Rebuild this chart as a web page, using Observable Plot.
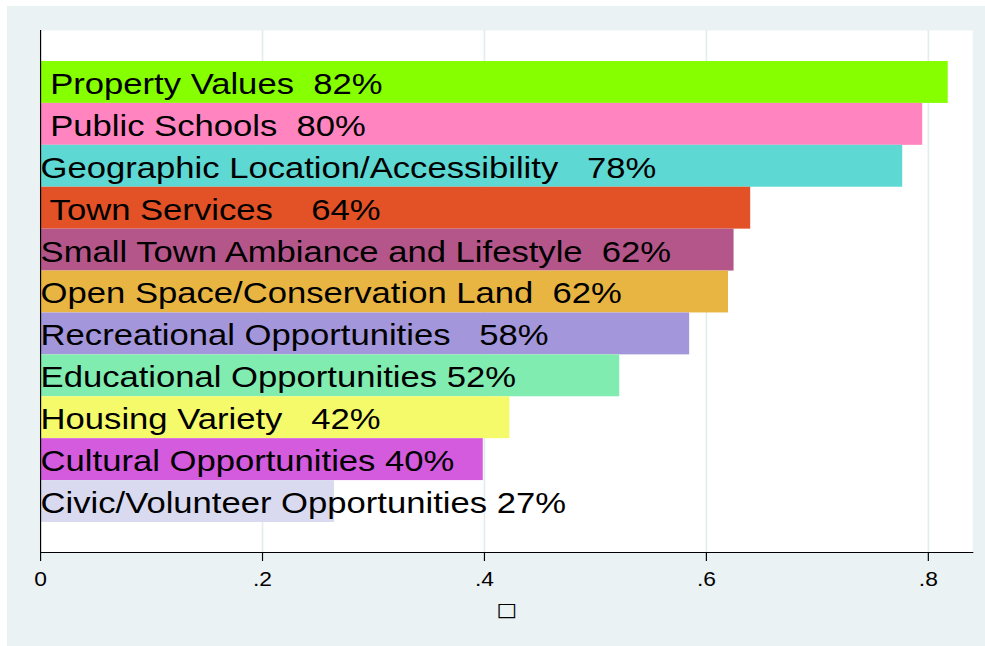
<!DOCTYPE html>
<html>
<head>
<meta charset="utf-8">
<script src="https://cdn.jsdelivr.net/npm/d3@7"></script>
<script src="https://cdn.jsdelivr.net/npm/@observablehq/plot@0.6"></script>
<style>
  html, body { margin: 0; padding: 0; background: #ffffff; }
  #panel { position: absolute; left: 7px; top: 6px; width: 978px; height: 640px; background: #eaf2f3; overflow: hidden; }
  #panel svg { position: absolute; left: 0; top: 0; transform: scaleX(1.17); transform-origin: 0 0; background: transparent; color: #000; }
  #panel svg text { white-space: pre; }
</style>
</head>
<body>
<div id="panel"></div>
<script>
const categories = [
  "Property Values",
  "Public Schools",
  "Geographic Location/Accessibility",
  "Town Services",
  "Small Town Ambiance and Lifestyle",
  "Open Space/Conservation Land",
  "Recreational Opportunities",
  "Educational Opportunities",
  "Housing Variety",
  "Cultural Opportunities",
  "Civic/Volunteer Opportunities"
];
const values = [0.818, 0.795, 0.777, 0.640, 0.625, 0.620, 0.585, 0.522, 0.423, 0.399, 0.265];
const labels = [
  " Property Values  82%",
  " Public Schools  80%",
  "Geographic Location/Accessibility   78%",
  " Town Services    64%",
  "Small Town Ambiance and Lifestyle  62%",
  "Open Space/Conservation Land  62%",
  "Recreational Opportunities   58%",
  "Educational Opportunities 52%",
  "Housing Variety   42%",
  "Cultural Opportunities 40%",
  "Civic/Volunteer Opportunities 27%"
];
const colors = ["#86ff00", "#ff84c0", "#5dd8d3", "#e35226", "#b5568a", "#e8b543", "#a396db", "#80ecb0", "#f5fa6b", "#d45ade", "#d9daf0"];
const tickValues = [0, 0.2, 0.4, 0.6, 0.8];
const tickLabels = ["0", ".2", ".4", ".6", ".8"];
const axisTitle = "\u25A1";

const data = categories.map((c, i) => ({cat: c, value: values[i], label: labels[i], color: colors[i]}));

const chart = Plot.plot({
  width: 836,
  height: 640,
  marginLeft: 28.2,
  marginRight: 11.1,
  marginTop: 24,
  marginBottom: 94,
  style: {fontFamily: "'Liberation Sans', Arial, sans-serif", background: "transparent", color: "#000"},
  x: {domain: [0, 0.84], axis: null},
  y: {domain: categories, padding: 0, round: false, insetTop: 31, insetBottom: 30, axis: null},
  color: {type: "identity"},
  marks: [
    Plot.frame({fill: "white", stroke: null}),
    Plot.ruleX(tickValues.filter(v => v > 0), {stroke: "#e3ecef", strokeWidth: 1.4}),
    Plot.barX(data, {x: "value", y: "cat", fill: "color", inset: 0}),
    Plot.text(data, {x: 0, y: "cat", text: "label", textAnchor: "start", fontSize: 29.6, dy: 2, fill: "#000"}),
    Plot.ruleX([0], {stroke: "#000", strokeWidth: 1}),
    Plot.frame({anchor: "bottom", stroke: "#000", strokeWidth: 1}),
    Plot.axisX({
      ticks: tickValues,
      tickFormat: (d, i) => tickLabels[tickValues.indexOf(d)],
      tickSize: 9,
      tickPadding: 11,
      fontSize: 19.5,
      label: null,
      stroke: "#000",
      fill: "#000"
    }),
    Plot.text([axisTitle], {frameAnchor: "bottom", text: d => d, dy: 63, fontSize: 19, fontFamily: "DejaVu Sans", fill: "#000"})
  ]
});
document.getElementById("panel").appendChild(chart);
</script>
</body>
</html>
